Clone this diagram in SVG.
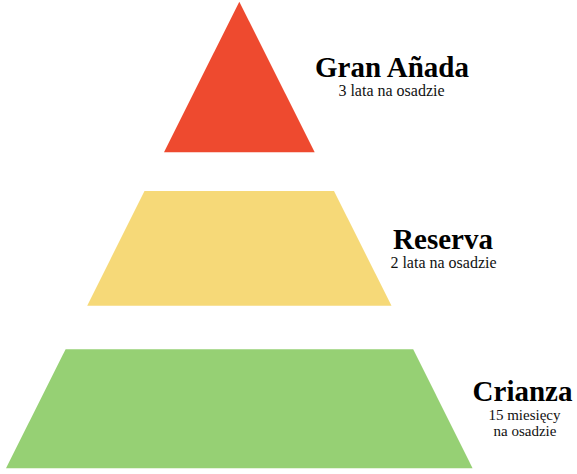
<svg xmlns="http://www.w3.org/2000/svg" width="577" height="474" viewBox="0 0 577 474">
<style>
.title{font-family:"Liberation Serif","Times New Roman",serif;font-weight:bold;font-size:29px;fill:#000;text-anchor:middle}
.sub{font-family:"Liberation Serif","Times New Roman",serif;font-size:16px;fill:#111;text-anchor:middle}
.sub2{font-family:"Liberation Serif","Times New Roman",serif;font-size:15px;fill:#111;text-anchor:middle}
</style>
<rect width="577" height="474" fill="#fff"/>
<g id="gran-anada">
<polygon points="239.3,1.7 314.7,152.3 164,152.3" fill="#EE4A2F"/>
<text class="title" x="392" y="77">Gran Añada</text>
<text class="sub" x="391.5" y="96">3 lata na osadzie</text>
</g>
<g id="reserva">
<polygon points="144.5,191 334,191 391.5,305.7 87.2,305.7" fill="#F6D978"/>
<text class="title" x="443" y="249">Reserva</text>
<text class="sub" x="443.5" y="268">2 lata na osadzie</text>
</g>
<g id="crianza">
<polygon points="65.6,349.3 413.2,349.3 472.6,468.3 6,468.3" fill="#96D074"/>
<text class="title" x="522.5" y="401">Crianza</text>
<text class="sub2" x="524.5" y="420">15 miesięcy</text>
<text class="sub2" x="525" y="436">na osadzie</text>
</g>
<g id="connectors"/>
</svg>
